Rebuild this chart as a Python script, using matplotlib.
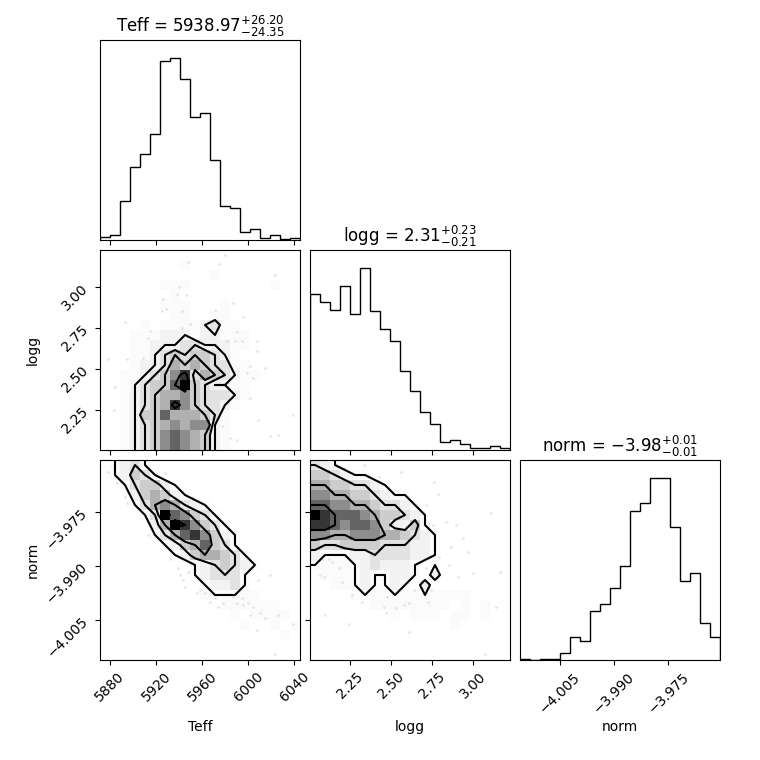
import numpy as np
import matplotlib
matplotlib.use('Agg')
from matplotlib import pyplot as plt
from matplotlib.colors import LinearSegmentedColormap
from matplotlib.ticker import MaxNLocator, NullLocator

labels = ['Teff', 'logg', 'norm']
titles = [r'Teff = $5938.97_{-24.35}^{+26.20}$',
          r'logg = $2.31_{-0.21}^{+0.23}$',
          r'norm = $-3.98_{-0.01}^{+0.01}$']
ranges = [(5871.3, 6044.8), (2.002, 3.229), (-4.0161, -3.9607)]

# 1d histograms, 20 bins over each range
teff_hist = [8, 15, 117, 218, 257, 317, 537, 545, 482, 368, 380, 239, 102, 96, 23, 32, 6, 15, 2, 6]
logg_hist = [468, 444, 419, 491, 407, 544, 415, 362, 327, 236, 176, 113, 79, 24, 29, 17, 5, 5, 11, 5]
norm_hist = [4, 0, 4, 4, 21, 69, 57, 146, 168, 215, 282, 448, 472, 545, 545, 398, 236, 260, 112, 69]

# 2d counts (20x20), rows go from top of panel to bottom
teff_logg = ["00000000000000000000",
             "00000000100000000000",
             "00000000000100000000",
             "00000011100000000100",
             "00000001000000000000",
             "00000011100010000000",
             "00000001100110000000",
             "00001011112311000000",
             "00011122212211100000",
             "00011222332221100000",
             "00011234344321000000",
             "00012235454331100000",
             "00112346835432110000",
             "00123447943221100000",
             "00123455643332100000",
             "00123458643321000000",
             "00124475554310000000",
             "00123456566210000000",
             "00123467654210000000",
             "00123467654210000000"]
teff_norm = ["01231000000000000000",
             "01243100000000000000",
             "00134421000000000000",
             "00024542100000000000",
             "00013565321000000000",
             "00001397643100000000",
             "00000259864310000000",
             "00000135786421000000",
             "00000012457431000000",
             "00000001245543100000",
             "00000000012343210000",
             "00000000012333100000",
             "00000000001223100000",
             "00000000001111110000",
             "00000000000011111100",
             "00000000000001011110",
             "00000000000000100101",
             "00000000000000000010",
             "00000000000000000000",
             "00000000000000000000"]
logg_norm = ["32100000000000000000",
             "44321100000000000000",
             "55443321000000000000",
             "66554432110000000000",
             "77665543321000000000",
             "98777654432100000000",
             "88767764224100000000",
             "66556665543210000000",
             "43344443332210000000",
             "21112233332210000000",
             "11111232221010000000",
             "01111211221020000000",
             "00111211210200000000",
             "00001111111111110000",
             "00000011111111010100",
             "00000000101110110100",
             "00000000000000100000",
             "00000000000000000000",
             "00000000000000000000",
             "00000000000000000000"]

# loose samples outside the contours
tl_x = [5947.9, 5974.8, 5979.8, 6023.1, 5940.1, 5938.4, 5945.6, 5926.2, 5924.8, 5928.6,
        5942.2, 5971.1, 5987.0, 5995.7, 5893.0, 5989.9, 5914.7, 5913.2, 5981.2, 5988.4,
        5994.2, 6007.2, 6007.2, 6001.4, 6014.5, 5998.5, 6004.3, 5878.5, 5894.4, 5908.9,
        5884.3, 5883.4, 6001.4, 6008.7, 6018.8, 6026.0, 6039.0, 5976.9, 5984.1, 5989.9,
        5949.4, 5942.2]
tl_y = [3.155, 3.145, 3.196, 3.073, 3.001, 2.956, 2.950, 2.929, 2.853, 2.867,
        2.853, 2.861, 2.902, 2.816, 2.789, 2.723, 2.729, 2.688, 2.672, 2.672,
        2.672, 2.672, 2.610, 2.518, 2.507, 2.476, 2.446, 2.563, 2.559, 2.569,
        2.388, 2.250, 2.322, 2.188, 2.090, 2.096, 2.219, 2.147, 2.075, 2.065,
        2.775, 2.750]
tn_x = [5878.5, 5884.3, 5885.8, 5893.0, 5894.4, 5913.2, 5927.7, 5932.0, 5946.5, 5952.3,
        5962.4, 5975.4, 5982.6, 5985.5, 5984.1, 5932.0, 5939.3, 5940.7, 5947.9, 5943.6,
        5945.0, 5955.2, 5958.1, 5962.4, 5966.7, 5971.1, 5978.3, 5981.2, 5987.0, 5989.9,
        5994.2, 5995.7, 6000.0, 6004.3, 6008.7, 6018.8, 6001.4, 6010.1, 6014.5, 6026.0,
        6007.2, 5974.0, 6023.1, 6039.0]
tn_y = [-3.9640, -3.9653, -3.9672, -3.9709, -3.9727, -3.9815, -3.9644, -3.9681, -3.9709, -3.9709,
        -3.9760, -3.9824, -3.9856, -3.9870, -3.9884, -3.9880, -3.9907, -3.9926, -3.9916, -3.9940,
        -3.9958, -3.9976, -3.9967, -3.9976, -4.0000, -3.9990, -4.0004, -3.9967, -3.9986, -4.0004,
        -3.9990, -4.0009, -4.0004, -4.0013, -3.9940, -3.9926, -4.0036, -4.0032, -4.0046, -4.0036,
        -4.0078, -4.0013, -4.0143, -4.0060]
ln_x = [2.178, 2.219, 2.332, 2.425, 2.559, 2.764, 2.785, 2.446, 2.713, 2.651,
        2.672, 2.713, 2.754, 2.836, 2.898, 2.867, 2.939, 2.795, 2.970, 3.114,
        3.165, 3.001, 2.908, 2.857, 2.713, 2.672, 2.744, 2.723, 2.641, 2.610,
        2.579, 2.528, 2.476, 2.456, 2.466, 2.322, 2.260, 2.199, 2.178, 2.086,
        2.065, 2.096, 2.240, 2.610, 3.145, 3.073, 2.137, 2.116, 2.075]
ln_y = [-3.9626, -3.9630, -3.9621, -3.9653, -3.9640, -3.9667, -3.9700, -3.9681, -3.9732, -3.9755,
        -3.9792, -3.9806, -3.9787, -3.9778, -3.9787, -3.9847, -3.9824, -3.9875, -3.9861, -3.9755,
        -3.9916, -3.9921, -3.9930, -3.9898, -3.9907, -3.9884, -3.9967, -4.0000, -3.9967, -4.0004,
        -4.0009, -4.0018, -3.9986, -4.0013, -4.0032, -4.0000, -3.9981, -3.9944, -3.9907, -3.9930,
        -3.9926, -4.0036, -4.0060, -4.0083, -4.0013, -4.0143, -3.9889, -3.9880, -3.9882]

hists = [teff_hist, logg_hist, norm_hist]
pairs = {(1, 0): (teff_logg, tl_x, tl_y),
         (2, 0): (teff_norm, tn_x, tn_y),
         (2, 1): (logg_norm, ln_x, ln_y)}

nb = 20
density_cmap = LinearSegmentedColormap.from_list('density_cmap', ['k', (1, 1, 1, 0)])
white_cmap = LinearSegmentedColormap.from_list('white_cmap', [(1, 1, 1), (1, 1, 1)], N=2)


def to_H(rows):
    g = np.array([[int(c) for c in r] for r in rows], dtype=float)
    return g[::-1].T  # H[x, y]


def hist2d(ax, rows, px, py, xr, yr):
    H = to_H(rows)
    X = np.linspace(xr[0], xr[1], nb + 1)
    Y = np.linspace(yr[0], yr[1], nb + 1)
    levels = 1.0 - np.exp(-0.5 * np.arange(0.5, 2.1, 0.5) ** 2)
    Hflat = H.flatten()
    Hflat = Hflat[np.argsort(Hflat)[::-1]]
    sm = np.cumsum(Hflat)
    sm /= sm[-1]
    V = np.empty(len(levels))
    for i, v0 in enumerate(levels):
        try:
            V[i] = Hflat[sm <= v0][-1]
        except IndexError:
            V[i] = Hflat[0]
    V.sort()
    m = np.diff(V) == 0
    while np.any(m):
        V[np.where(m)[0][0]] *= 1.0 - 1e-4
        m = np.diff(V) == 0
    V.sort()

    X1, Y1 = 0.5 * (X[1:] + X[:-1]), 0.5 * (Y[1:] + Y[:-1])
    H2 = H.min() + np.zeros((H.shape[0] + 4, H.shape[1] + 4))
    H2[2:-2, 2:-2] = H
    H2[2:-2, 1] = H[:, 0]
    H2[2:-2, -2] = H[:, -1]
    H2[1, 2:-2] = H[0]
    H2[-2, 2:-2] = H[-1]
    H2[1, 1] = H[0, 0]
    H2[1, -2] = H[0, -1]
    H2[-2, 1] = H[-1, 0]
    H2[-2, -2] = H[-1, -1]
    X2 = np.concatenate([X1[0] + np.array([-2, -1]) * np.diff(X1[:2]), X1,
                         X1[-1] + np.array([1, 2]) * np.diff(X1[-2:])])
    Y2 = np.concatenate([Y1[0] + np.array([-2, -1]) * np.diff(Y1[:2]), Y1,
                         Y1[-1] + np.array([1, 2]) * np.diff(Y1[-2:])])

    ax.plot(px, py, 'o', color='k', ms=2, mec='none', alpha=0.1, zorder=-1, rasterized=True)
    ax.contourf(X2, Y2, H2.T, [V.min(), H.max()], cmap=white_cmap, antialiased=False)
    ax.pcolor(X, Y, H.max() - H.T, cmap=density_cmap)
    ax.contour(X2, Y2, H2.T, V, colors='k')
    ax.set_xlim(xr)
    ax.set_ylim(yr)


fig, axes = plt.subplots(3, 3, figsize=(7.6, 7.6))
lb = 1.0 / 7.6
tr = 7.2 / 7.6
fig.subplots_adjust(left=lb, bottom=lb, right=tr, top=tr, wspace=0.05, hspace=0.05)

for i in range(3):
    for j in range(3):
        ax = axes[i, j]
        if j > i:
            ax.set_frame_on(False)
            ax.set_xticks([])
            ax.set_yticks([])
            continue
        if i == j:
            edges = np.linspace(ranges[i][0], ranges[i][1], nb + 1)
            centers = 0.5 * (edges[1:] + edges[:-1])
            n, _, _ = ax.hist(centers, bins=edges, weights=hists[i], histtype='step', color='k')
            ax.set_xlim(ranges[i])
            ax.set_ylim(0, 1.1 * np.max(n))
            ax.set_title(titles[i])
            ax.yaxis.set_major_locator(NullLocator())
        else:
            rows, px, py = pairs[(i, j)]
            hist2d(ax, rows, px, py, ranges[j], ranges[i])
            ax.yaxis.set_major_locator(MaxNLocator(5, prune='lower'))
            if j == 0:
                ax.set_ylabel(labels[i])
                ax.yaxis.set_label_coords(-0.3, 0.5)
                for t in ax.get_yticklabels():
                    t.set_rotation(45)
            else:
                ax.set_yticklabels([])
        ax.xaxis.set_major_locator(MaxNLocator(5, prune='lower'))
        if i < 2:
            ax.set_xticklabels([])
        else:
            ax.set_xlabel(labels[j])
            ax.xaxis.set_label_coords(0.5, -0.3)
            for t in ax.get_xticklabels():
                t.set_rotation(45)

fig.savefig('out.png', dpi=100)
